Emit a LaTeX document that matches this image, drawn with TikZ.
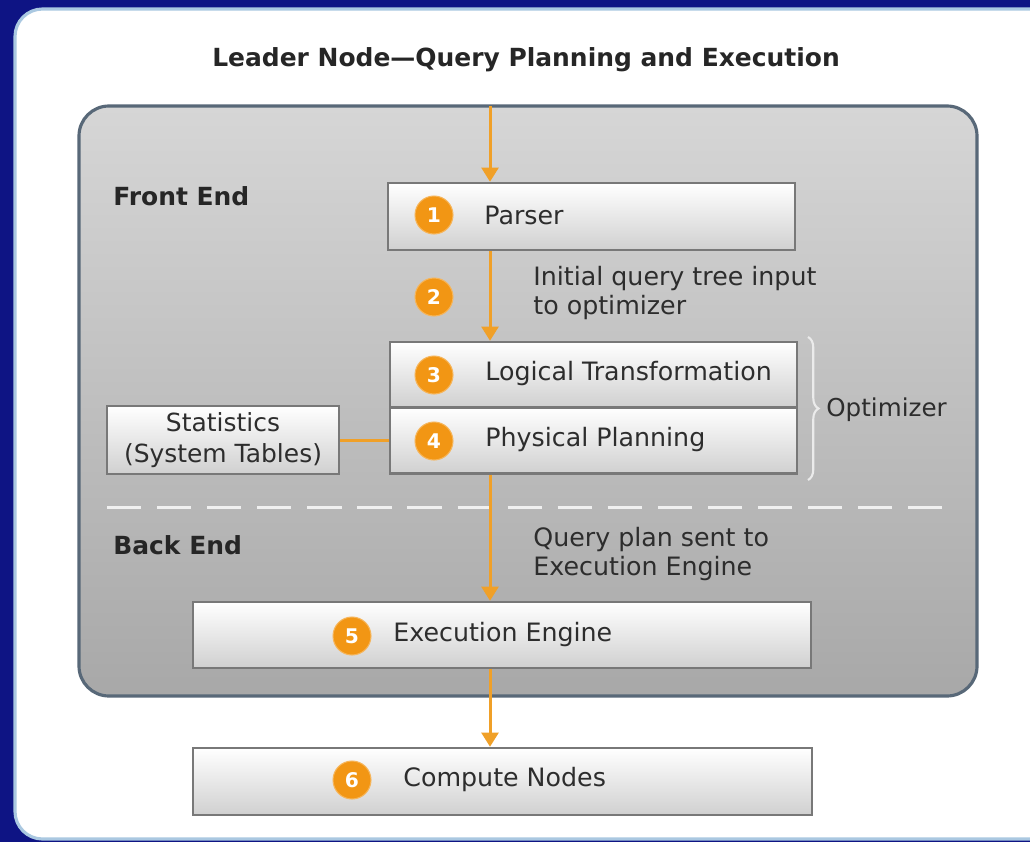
\documentclass[tikz,border=0pt]{standalone}
\usepackage{fontspec}
\setmainfont{DejaVu Sans}
\usetikzlibrary{arrows.meta,decorations.pathreplacing}

\definecolor{frame}{RGB}{14,20,132}
\definecolor{cardline}{RGB}{170,200,225}
\definecolor{panelline}{RGB}{88,104,120}
\definecolor{paneltop}{RGB}{214,214,214}
\definecolor{panelbot}{RGB}{168,168,168}
\definecolor{flow}{RGB}{240,160,40}
\definecolor{badge}{RGB}{242,150,20}
\definecolor{boxline}{RGB}{120,120,120}
\definecolor{boxbot}{RGB}{208,208,208}
\definecolor{ink}{RGB}{45,45,45}
\definecolor{braceink}{RGB}{235,235,235}

\tikzset{
  px/.style={x=0.02cm,y=-0.02cm},
  stagebox/.style={draw=boxline, line width=1.4pt, top color=white, bottom color=boxbot,
    inner sep=0pt, minimum width=#1},
  badgenum/.style={circle, fill=badge, draw=badge!70!white, line width=0.6pt, text=white,
    inner sep=0pt, minimum size=0.76cm, font=\fontsize{11.5}{12}\selectfont\bfseries},
  boxtext/.style={anchor=west, inner sep=0pt, text=ink, font=\fontsize{14.4}{16}\selectfont},
  note/.style={anchor=north west, inner sep=0pt, text=ink, align=left,
    font=\fontsize{14.4}{16.4}\selectfont},
  heading/.style={anchor=west, inner sep=0pt, text=black!85, font=\fontsize{14.2}{16}\selectfont\bfseries},
  flowline/.style={draw=flow, line width=1.7pt},
  flowarrow/.style={flowline, -{Triangle[width=9.5pt,length=8pt]}},
}

\begin{document}
\begin{tikzpicture}[px]
  \useasboundingbox (0,0) rectangle (1030,842);
  \clip (0,0) rectangle (1030,842);
  % outer frame and white card
  \fill[frame] (0,0) rectangle (1030,842);
  \draw[cardline, line width=1.8pt, fill=white, rounded corners=0.55cm]
    (15,9) rectangle (1060,839);

  % title
  \node[anchor=center, inner sep=0pt, text=black!85, font=\fontsize{14.2}{16}\selectfont\bfseries]
    (title) at (526,60) {Leader Node—Query Planning and Execution};

  % grey leader-node panel
  \draw[panelline, line width=1.8pt, top color=paneltop, bottom color=panelbot, rounded corners=0.6cm]
    (79,106) rectangle (977,696);

  \node[heading] (front) at (113,196) {Front End};
  \node[heading] (back) at (113,545) {Back End};

  % stage boxes
  \node[stagebox=8.14cm, minimum height=1.34cm] (parser) at (591.5,216.5) {};
  \node[stagebox=8.14cm, minimum height=1.30cm] (logic) at (593.5,374.5) {};
  \node[stagebox=8.14cm, minimum height=1.32cm] (phys) at (593.5,440.5) {};
  \node[stagebox=4.64cm, minimum height=1.36cm, align=center, text=ink,
        font=\fontsize{14.2}{17.4}\selectfont] (stats) at (223,440) {Statistics\\(System Tables)};
  \node[stagebox=12.36cm, minimum height=1.32cm] (exec) at (502,635) {};
  \node[stagebox=12.38cm, minimum height=1.34cm] (compute) at (502.5,781.5) {};

  % badges and labels
  \node[badgenum] (b1) at (434,215) {1};
  \node[badgenum] (b2) at (434,297) {2};
  \node[badgenum] (b3) at (434,375) {3};
  \node[badgenum] (b4) at (434,441) {4};
  \node[badgenum] (b5) at (352,636) {5};
  \node[badgenum] (b6) at (352,780) {6};

  \node[boxtext] (tparser) at (484,215) {Parser};
  \node[boxtext] (tlogic) at (485,374) {Logical Transformation};
  \node[boxtext] (tphys) at (485,440) {Physical Planning};
  \node[boxtext] (texec) at (393,635) {Execution Engine};
  \node[boxtext] (tcompute) at (403,780) {Compute Nodes};

  \node[note] (n2) at (533,266) {Initial query tree input\\to optimizer};
  \node[note] (n5) at (533,527) {Query plan sent to\\Execution Engine};

  % optimizer brace
  \coordinate (bt) at (808,337);
  \coordinate (bb) at (808,480);
  \draw[braceink, line width=1.2pt, decorate, decoration={brace, amplitude=6pt}] (bt) -- (bb);
  \node[anchor=west, inner sep=0pt, text=ink, font=\fontsize{14}{16}\selectfont]
    (opt) at (826,410) {Optimizer};

  % front end / back end divider
  \coordinate (dl) at (107,507);
  \coordinate (dr) at (948,507);
  \draw[white!88!gray, line width=1.7pt, dash pattern=on 19.5pt off 9pt] (dl) -- (dr);

  % flow connectors
  \coordinate (inx) at (490,106);
  \draw[flowarrow] (inx) -- (parser.north -| inx);
  \draw[flowarrow] (parser.south -| inx) -- (logic.north -| inx);
  \draw[flowarrow] (phys.south -| inx) -- (exec.north -| inx);
  \draw[flowarrow] (exec.south -| inx) -- (compute.north -| inx);
  \draw[flowline] (stats.east) -- (stats.east -| phys.west);
\end{tikzpicture}
\end{document}
